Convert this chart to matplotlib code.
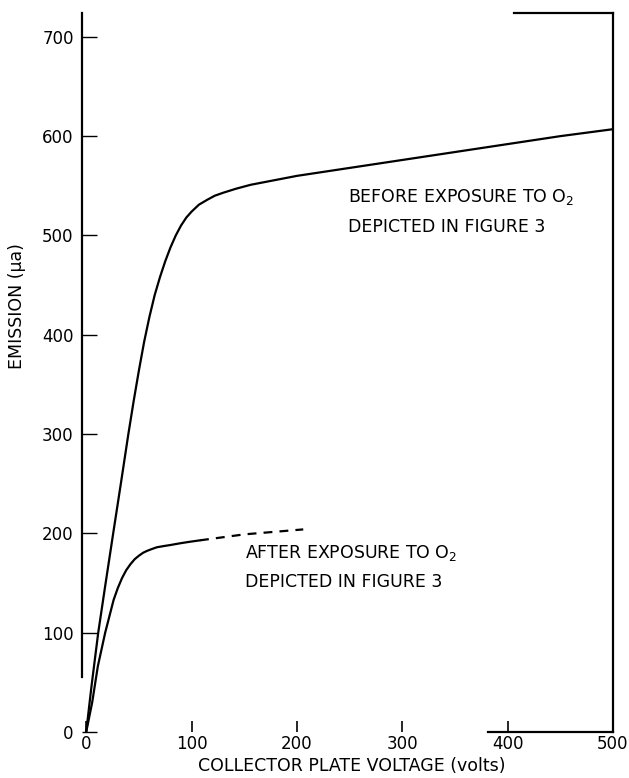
import matplotlib
matplotlib.use("Agg")
import matplotlib.pyplot as plt

# Data
before_v = [0, 5, 11.4, 18, 25.6, 33, 40, 45, 50, 55, 60, 65, 70, 75, 80, 85, 90, 95, 100, 107, 115, 122, 130, 142, 156, 200, 250, 300, 350, 400, 450, 500]
before_i = [0, 46, 100, 147, 200, 251, 300, 333, 364, 393, 418, 440, 458, 474, 488, 500, 510, 518, 524, 531, 536, 540, 543, 547, 551, 560, 568, 576, 584, 592, 600, 607]

after_v = [0, 5.7, 11, 18, 26, 30, 34, 38, 42, 46, 50, 54, 58, 63, 67, 74, 80, 89, 98, 108]
after_i = [0, 30, 66, 100, 133, 145, 155, 163, 169, 174, 177.5, 180.5, 182.5, 184.5, 186, 187.3, 188.3, 190, 191.5, 193]

after_dash_v = [108, 150, 206]
after_dash_i = [193, 199, 204]

x_ticks = [0, 100, 200, 300, 400, 500]
y_ticks = [0, 100, 200, 300, 400, 500, 600, 700]

plt.rcParams['font.family'] = ['DejaVu Sans']

fig = plt.figure(figsize=(6.29, 7.78), dpi=100)
ax = fig.add_axes([82/629, 46/778, (613-82)/629, (732-13)/778])

ax.plot(before_v, before_i, color='black', lw=1.6, solid_capstyle='round', solid_joinstyle='round')
ax.plot(after_v, after_i, color='black', lw=1.6, solid_capstyle='round', solid_joinstyle='round')
ax.plot(after_dash_v, after_dash_i, color='black', lw=1.6, linestyle=(0, (4, 3.2)))

ax.set_xlim(-4, 500)
ax.set_ylim(0, 724)

ax.set_xticks(x_ticks)
ax.set_yticks(y_ticks)
ax.tick_params(axis='y', direction='in', length=11, width=1.0, labelsize=12, pad=6)
ax.tick_params(axis='x', direction='in', length=8, width=1.2, labelsize=12, pad=2.5)

for s in ax.spines.values():
    s.set_linewidth(1.6)
ax.spines['left'].set_bounds(55, 724)
ax.spines['bottom'].set_bounds(381, 500)
ax.spines['top'].set_bounds(406, 500)

ax.set_xlabel('COLLECTOR PLATE VOLTAGE (volts)', fontsize=12.5, va='center')
ax.xaxis.set_label_coords(0.508, -0.0475)
ax.set_ylabel('EMISSION (μa)', fontsize=12.5)
ax.yaxis.set_label_coords(-0.105, 0.593)

ax.text(248, 539, 'BEFORE EXPOSURE TO O$_2$', fontsize=12.5, va='center', ha='left')
ax.text(248, 509, 'DEPICTED IN FIGURE 3', fontsize=12.5, va='center', ha='left')
ax.text(151, 180, 'AFTER EXPOSURE TO O$_2$', fontsize=12.5, va='center', ha='left')
ax.text(151, 151, 'DEPICTED IN FIGURE 3', fontsize=12.5, va='center', ha='left')

fig.savefig('out.png', dpi=100)
